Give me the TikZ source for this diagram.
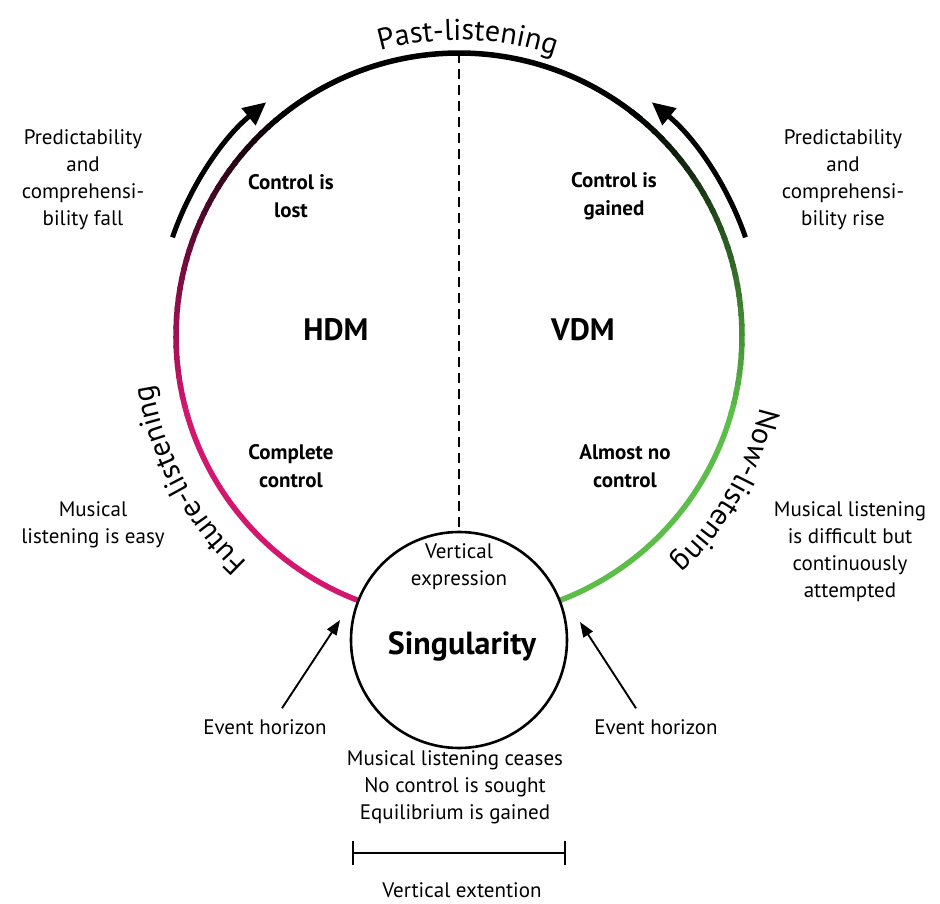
\documentclass[tikz,border=0pt]{standalone}
\usepackage{fontspec}
\setmainfont{PT Sans}
\usetikzlibrary{arrows.meta, decorations.text, positioning}

\definecolor{futurecol}{HTML}{D3166E}
\definecolor{nowcol}{HTML}{5CBD48}

\begin{document}
\begin{tikzpicture}[
  x=1pt, y=1pt,
  every node/.style={font=\fontsize{21}{27}\selectfont, align=center, inner sep=0pt},
  bold/.style={font=\fontsize{21}{28}\selectfont\bfseries},
  model/.style={font=\fontsize{31}{31}\selectfont\bfseries},
  bigarc/.style={line width=5.5pt},
  trend/.style={line width=5pt, -{Triangle[length=23pt, width=21pt]}},
  evarrow/.style={line width=1.9pt, -{Triangle[length=15pt, width=11pt]}},
  divider/.style={line width=2.4pt, dash pattern=on 10pt off 6pt},
  curved/.style={decorate, decoration={text along path, text align=center,
    text={|\fontsize{30}{30}\selectfont|#1}}},
]
\useasboundingbox (-459,-568) rectangle (481,336);

% grosser Kreis: Farbverlauf entlang der Boegen
\draw[bigarc] (50:283) arc[start angle=50, end angle=128.5, radius=283];
\foreach \a in {128,130,...,194}{
  \pgfmathtruncatemacro\p{(\a-128)*100/66}
  \draw[bigarc, futurecol!\p!black] (\a:283) arc[start angle=\a, end angle=\a+2.6, radius=283];
}
\draw[bigarc, futurecol] (196:283) arc[start angle=196, end angle=251, radius=283];
\foreach \a in {-16,-14,...,50}{
  \pgfmathtruncatemacro\p{(50-\a)*100/66}
  \draw[bigarc, nowcol!\p!black] (\a:283) arc[start angle=\a, end angle=\a+2.6, radius=283];
}
\draw[bigarc, nowcol] (-71:283) arc[start angle=-71, end angle=-15.5, radius=283];

% Singularitaet
\node[circle, draw, fill=white, line width=2.6pt, minimum size=216pt] (sing) at (0,-304) {};
\node (vexpr) at (0,-231) {Vertical\\expression};
\node[model, font=\fontsize{32}{32}\selectfont\bfseries] (singlbl) at (3,-310) {Singularity};

% Trennlinie
\coordinate (top) at (90:283);
\draw[divider] (top) -- (sing.north);

% Pfeile aussen
\draw[trend] (161:303) arc[start angle=161, end angle=129.5, radius=303];
\draw[trend] (19:303) arc[start angle=19, end angle=50.5, radius=303];

% Beschriftung entlang der Boegen
\path[curved=Past-listening] (104.3:296) arc[start angle=104.3, end angle=72.3, radius=296];
\path[curved=Future-listening] (238:310) arc[start angle=238, end angle=178, radius=310];
\path[curved=Now-listening] (0:310) arc[start angle=0, end angle=-60, radius=310];

% Texte innen
\node[bold] (lost) at (-168,140) {Control is\\lost};
\node[bold] (gained) at (155,140) {Control is\\gained};
\node[model] (hdm) at (-123,6) {HDM};
\node[model] (vdm) at (124,6) {VDM};
\node[bold] (complete) at (-168,-130) {Complete\\control};
\node[bold] (almost) at (166,-130) {Almost no\\control};

% Texte aussen
\node (fallnote) at (-376,156) {Predictability\\and\\comprehensi-\\bility fall};
\node (risenote) at (384,156) {Predictability\\and\\comprehensi-\\bility rise};
\node (easy) at (-366,-189) {Musical\\listening is easy};
\node (difficult) at (391,-216) {Musical listening\\is difficult but\\continuously\\attempted};

% Ereignishorizont
\node (evleft) at (-194,-391) {Event horizon};
\node (evright) at (197,-391) {Event horizon};
\coordinate (lefttip) at (-119,-284);
\coordinate (righttip) at (121,-286);
\draw[evarrow] ([xshift=17pt, yshift=11pt]evleft.north) -- (lefttip);
\draw[evarrow] ([xshift=-20pt, yshift=11pt]evright.north) -- (righttip);

\node (ceases) at (-4,-451) {Musical listening ceases\\No control is sought\\Equilibrium is gained};

% vertikale Ausdehnung
\coordinate (extl) at (-107,-517);
\coordinate (extr) at (107,-517);
\draw[line width=2.4pt, {Bar[width=24pt]}-{Bar[width=24pt]}] (extl) -- (extr);
\node (extlbl) at (3,-554) {Vertical extention};

\end{tikzpicture}
\end{document}
